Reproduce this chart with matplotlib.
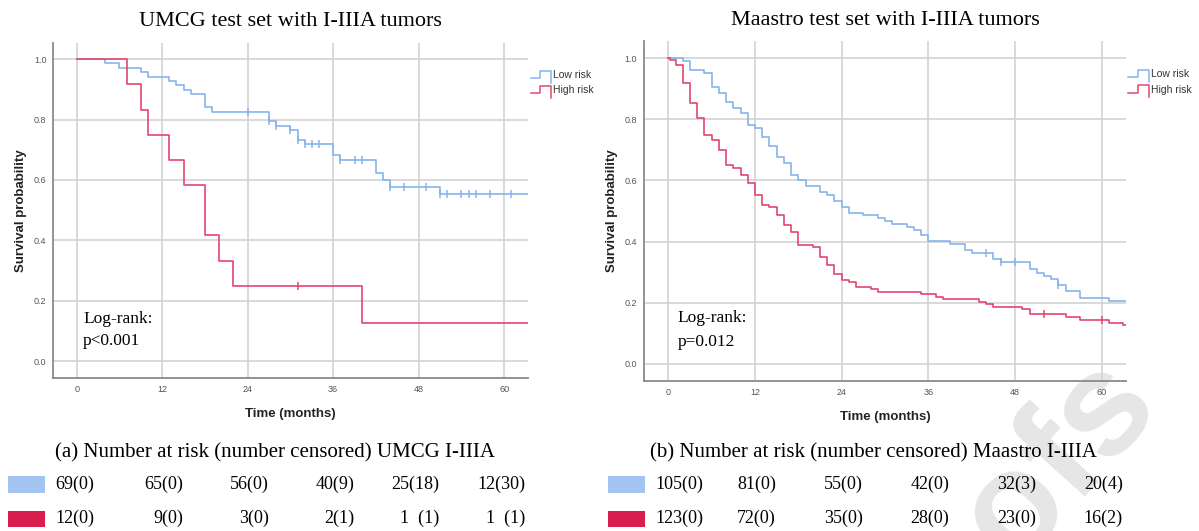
import matplotlib
matplotlib.use("Agg")
import matplotlib.pyplot as plt
from matplotlib.patches import Rectangle
import matplotlib.transforms as mtransforms
import numpy as np

# ---- data ----
umcg_low_t = [0, 4, 6, 9, 10, 13, 14, 15, 16, 18, 19, 27, 28, 30, 31, 32, 36, 37, 42, 43, 44, 51, 64]
umcg_low_s = [1, .986, .971, .957, .942, .928, .913, .899, .884, .841, .826, .794, .780, .765, .733, .719,
              .684, .666, .622, .600, .578, .554, .554]
umcg_low_cens = [24, 27, 28, 30, 31, 32, 33, 34, 37, 39, 40, 44, 46, 49, 51, 52, 54, 55, 56, 58, 61]

umcg_high_t = [0, 7, 9, 10, 13, 15, 18, 20, 22, 40, 64]
umcg_high_s = [1, .917, .833, .75, .667, .583, .417, .333, .25, .125, .125]
umcg_high_cens = [31]

maas_low_t = [0, 2, 3, 5, 6, 7, 8, 9, 10, 11, 12, 13, 14, 15, 16, 17, 18, 19, 21, 22, 23, 24, 25, 27, 29,
              30, 31, 33, 34, 35, 36, 39, 41, 42, 45, 46, 50, 51, 52, 53, 54, 55, 57, 61, 64]
maas_low_s = [1, .990, .962, .952, .905, .886, .857, .838, .819, .781, .771, .743, .714, .676, .657, .619,
              .600, .581, .562, .552, .533, .514, .495, .486, .476, .467, .457, .447, .438, .422, .402,
              .392, .373, .362, .342, .332, .310, .296, .287, .278, .259, .239, .216, .205, .205]
maas_low_cens = [44, 46, 48, 54]

maas_high_t = [0, 0.2, 1, 2, 3, 4, 5, 6, 7, 8, 9, 10, 11, 12, 13, 14, 15, 16, 17, 18, 20, 21, 22, 23, 24,
               25, 26, 28, 29, 35, 37, 38, 43, 44, 45, 49, 50, 55, 57, 61, 63, 64]
maas_high_s = [1, .992, .976, .919, .854, .805, .748, .732, .699, .650, .642, .618, .593, .553, .520, .512,
               .488, .455, .431, .390, .382, .350, .325, .293, .276, .268, .252, .244, .236, .228, .220,
               .211, .203, .195, .187, .179, .163, .154, .143, .134, .127, .127]
maas_high_cens = [52, 60]

risk_months = [0, 12, 24, 36, 48, 60]
umcg_low_risk = ["69(0)", "65(0)", "56(0)", "40(9)", "25(18)", "12(30)"]
umcg_high_risk = ["12(0)", "9(0)", "3(0)", "2(1)", "1  (1)", "1  (1)"]
maas_low_risk = ["105(0)", "81(0)", "55(0)", "42(0)", "32(3)", "20(4)"]
maas_high_risk = ["123(0)", "72(0)", "35(0)", "28(0)", "23(0)", "16(2)"]

BLUE = "#86b3ef"
RED = "#e4466e"
SQ_BLUE = "#a3c4f0"
SQ_RED = "#d81e4e"
W, H = 1199, 531
SERIF = "Liberation Serif"
SANS = "Liberation Sans"

fig = plt.figure(figsize=(W / 100, H / 100), dpi=100)


def px_axes(l, t, r, b):
    return fig.add_axes([l / W, 1 - b / H, (r - l) / W, (b - t) / H])


def km(ax, t, s, cens, color):
    ax.step(t, s, where="post", color=color, lw=1.2, zorder=3)
    t_arr = np.array(t)
    idx = [np.searchsorted(t_arr, c, side="right") - 1 for c in cens]
    ax.plot(cens, [s[i] for i in idx], ls="none", marker="|", ms=6, mew=1.1, color=color, zorder=3)


def style(ax, xlim):
    ax.set_xlim(*xlim)
    ax.set_ylim(-0.055, 1.055)
    ax.set_facecolor("none")
    ax.set_xticks(risk_months)
    ax.set_yticks([0, 0.2, 0.4, 0.6, 0.8, 1.0])
    ax.set_yticklabels(["0.0", "0.2", "0.4", "0.6", "0.8", "1.0"])
    ax.grid(True, color="#d3d3d3", lw=1.2)
    ax.set_axisbelow(True)
    for sp in ["top", "right"]:
        ax.spines[sp].set_visible(False)
    for sp in ["left", "bottom"]:
        ax.spines[sp].set_color("#8a8a8a")
        ax.spines[sp].set_linewidth(1.3)
    ax.tick_params(length=0, labelsize=6.5, labelcolor="#555555", pad=5)
    for lab in ax.get_xticklabels() + ax.get_yticklabels():
        lab.set_family(SANS)
    ax.set_xlabel("Time (months)", fontsize=9.5, fontweight="bold", family=SANS, color="#222222", labelpad=10)
    ax.set_ylabel("Survival probability", fontsize=9.5, fontweight="bold", family=SANS, color="#222222",
                  labelpad=5)


def legend(ax):
    for yv, lab, col in [(0.947, "Low risk", BLUE), (0.897, "High risk", RED)]:
        ax.plot([63.7, 65.0, 65.0, 66.5, 66.5], [yv - 0.01, yv - 0.01, yv + 0.015, yv + 0.015, yv - 0.025],
                color=col, lw=1.1, clip_on=False)
        ax.text(66.8, yv, lab, fontsize=7.5, family=SANS, color="#333333", va="center", ha="left")


ax1 = px_axes(53.3, 42.6, 527.7, 377.7)
style(ax1, (-3.28, 63.3))
km(ax1, umcg_low_t, umcg_low_s, umcg_low_cens, BLUE)
km(ax1, umcg_high_t, umcg_high_s, umcg_high_cens, RED)
legend(ax1)
ax1.text(0.9, 0.138, "Log-rank:", family=SERIF, fontsize=12.5, va="center")
ax1.text(0.9, 0.066, "p<0.001", family=SERIF, fontsize=12.5, va="center")
ax1.set_title("UMCG test set with I-IIIA tumors", family=SERIF, fontsize=16, pad=12)

ax2 = px_axes(644.2, 41.2, 1125.6, 380.8)
style(ax2, (-3.34, 63.3))
km(ax2, maas_low_t, maas_low_s, maas_low_cens, BLUE)
km(ax2, maas_high_t, maas_high_s, maas_high_cens, RED)
legend(ax2)
ax2.text(1.3, 0.150, "Log-rank:", family=SERIF, fontsize=12.5, va="center")
ax2.text(1.3, 0.073, "p=0.012", family=SERIF, fontsize=12.5, va="center")
ax2.set_title("Maastro test set with I-IIIA tumors", family=SERIF, fontsize=16, pad=12)

# ---- number at risk tables ----
fig.text(55 / W, 1 - 453 / H, "(a) Number at risk (number censored) UMCG I-IIIA",
         family=SERIF, fontsize=15, va="center", ha="left")
fig.text(650 / W, 1 - 453 / H, "(b) Number at risk (number censored) Maastro I-IIIA",
         family=SERIF, fontsize=15, va="center", ha="left")

for ax, sq_x, rows in [(ax1, 8.3, [umcg_low_risk, umcg_high_risk]),
                       (ax2, 608, [maas_low_risk, maas_high_risk])]:
    tr = mtransforms.blended_transform_factory(ax.transData, fig.transFigure)
    tr_right = mtransforms.offset_copy(tr, fig=fig, x=21, y=0, units="dots")
    for row_y, labels, col in [(484, rows[0], SQ_BLUE), (518.5, rows[1], SQ_RED)]:
        fig.patches.append(Rectangle((sq_x / W, 1 - (row_y + 8.5) / H), 37 / W, 16.5 / H,
                                     transform=fig.transFigure, facecolor=col, edgecolor="none"))
        # first column sits just right of the colour square
        fig.text((sq_x + 47) / W, 1 - row_y / H, labels[0], family=SERIF, fontsize=13,
                 ha="left", va="center")
        for m, lab in zip(risk_months[1:], labels[1:]):
            ax.text(m, 1 - row_y / H, lab, transform=tr_right, family=SERIF, fontsize=13,
                    ha="right", va="center", clip_on=False)

# light watermark behind everything
fig.text(1160 / W, 1 - 402 / H, "Proofs", family=SANS, fontweight="bold", fontsize=105, color="#e6e6e6",
         rotation=48, rotation_mode="anchor", ha="right", va="baseline", zorder=-1)

fig.savefig("out.png", dpi=100)
